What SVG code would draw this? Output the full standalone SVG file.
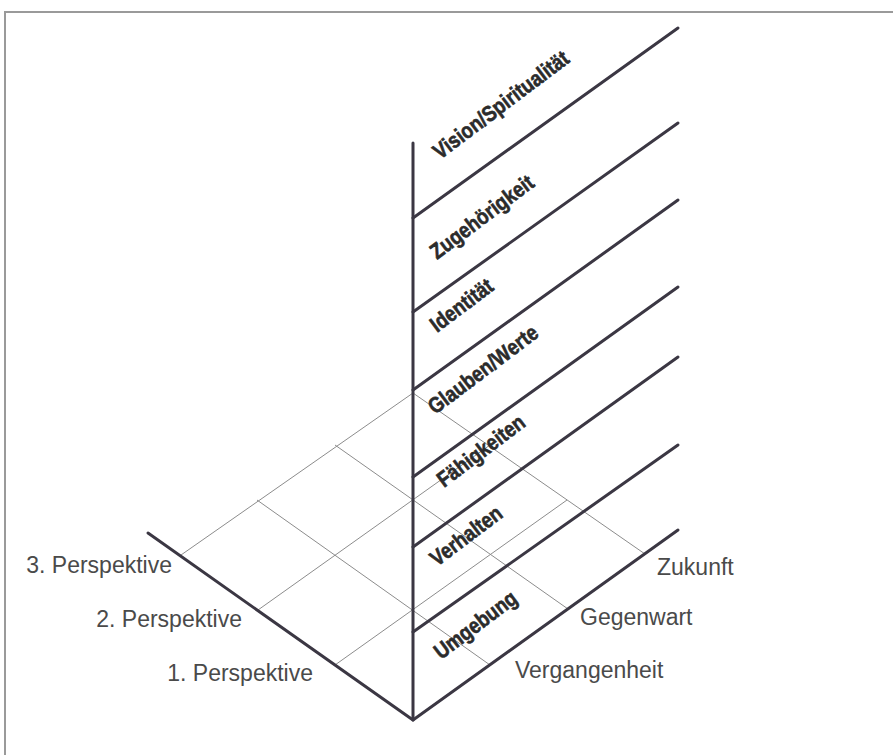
<svg xmlns="http://www.w3.org/2000/svg" width="893" height="755" viewBox="0 0 893 755">
<style>
.frame{fill:none;stroke:#9a9a9a;stroke-width:2}
.grid{stroke:#8c8c8c;stroke-width:1;fill:none}
.axis{stroke:#3b3743;stroke-width:3;fill:none;stroke-linecap:round;stroke-linejoin:round}
.lvl{font-family:"Liberation Sans",Arial,sans-serif;font-weight:bold;font-size:22px;fill:#2b2b2b;stroke:#2b2b2b;stroke-width:0.6}
.lab{font-family:"Liberation Sans",Arial,sans-serif;font-size:23px;fill:#4a4a4a}
</style>
<rect width="893" height="755" fill="#ffffff"/>
<path class="frame" d="M5,755 V12 H893"/>
<g id="floor-grid" class="grid">
<line x1="490" y1="665" x2="257" y2="500"/>
<line x1="568" y1="609" x2="335" y2="445"/>
<line x1="645" y1="554" x2="413" y2="393"/>
<line x1="335" y1="665" x2="567" y2="500"/>
<line x1="258" y1="610" x2="490" y2="445"/>
<line x1="181" y1="555" x2="413" y2="393"/>
</g>
<g id="connectors" class="axis">
<line x1="413" y1="143" x2="413" y2="720"/>
<polyline points="148,533 413,720 678,530"/>
<line x1="413" y1="218" x2="678" y2="28"/>
<line x1="413" y1="312" x2="678" y2="123"/>
<line x1="413" y1="390" x2="678" y2="200"/>
<line x1="413" y1="477" x2="678" y2="287"/>
<line x1="413" y1="547" x2="678" y2="357"/>
<line x1="413" y1="632" x2="678" y2="445"/>
</g>
<g id="level-vision"><text class="lvl" transform="translate(440,160) rotate(-37) scale(0.85,1)">Vision/Spiritualität</text></g>
<g id="level-zugehoerigkeit"><text class="lvl" transform="translate(437,260) rotate(-37) scale(0.85,1)">Zugehörigkeit</text></g>
<g id="level-identitaet"><text class="lvl" transform="translate(437,333) rotate(-37) scale(0.85,1)">Identität</text></g>
<g id="level-glauben"><text class="lvl" transform="translate(435,415) rotate(-37) scale(0.85,1)">Glauben/Werte</text></g>
<g id="level-faehigkeiten"><text class="lvl" transform="translate(444,488) rotate(-37) scale(0.85,1)">Fähigkeiten</text></g>
<g id="level-verhalten"><text class="lvl" transform="translate(437,567) rotate(-37) scale(0.85,1)">Verhalten</text></g>
<g id="level-umgebung"><text class="lvl" transform="translate(441,660) rotate(-37) scale(0.85,1)">Umgebung</text></g>
<g id="perspective-3"><text class="lab" x="172" y="573" text-anchor="end">3. Perspektive</text></g>
<g id="perspective-2"><text class="lab" x="242" y="627" text-anchor="end">2. Perspektive</text></g>
<g id="perspective-1"><text class="lab" x="313" y="681" text-anchor="end">1. Perspektive</text></g>
<g id="time-zukunft"><text class="lab" x="657" y="575">Zukunft</text></g>
<g id="time-gegenwart"><text class="lab" x="580" y="625">Gegenwart</text></g>
<g id="time-vergangenheit"><text class="lab" x="515" y="678">Vergangenheit</text></g>
</svg>
